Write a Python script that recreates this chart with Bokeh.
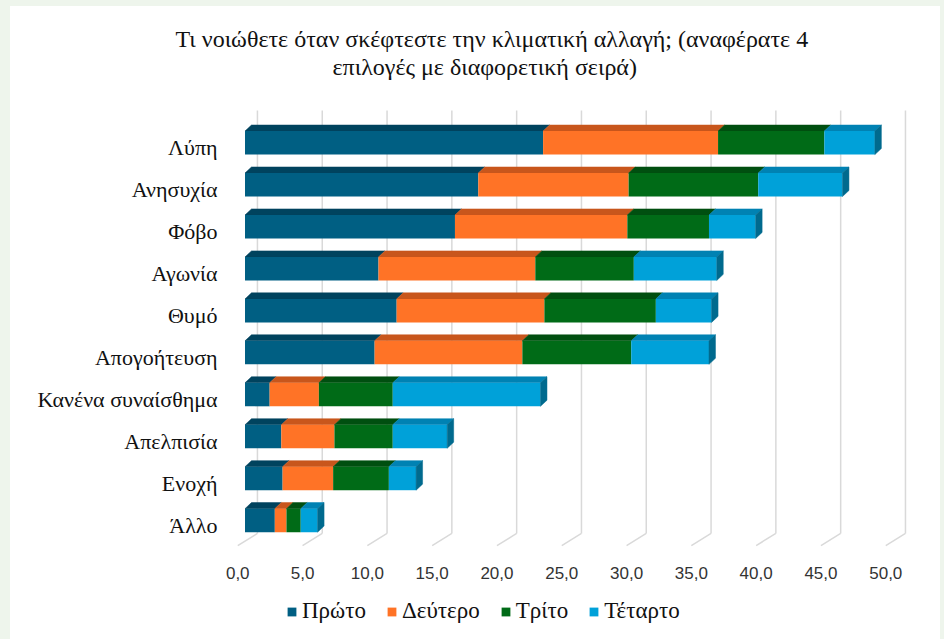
from bokeh.plotting import figure
from bokeh.layouts import column
from bokeh.models import Range1d, FixedTicker, LinearAxis, Legend, LegendItem, Title
from bokeh.embed import file_html
from bokeh.resources import INLINE

# ---------------- data ----------------
categories = ["Λύπη", "Ανησυχία", "Φόβο", "Αγωνία", "Θυμό", "Απογοήτευση",
              "Κανένα συναίσθημα", "Απελπισία", "Ενοχή", "Άλλο"]
series_names = ["Πρώτο", "Δεύτερο", "Τρίτο", "Τέταρτο"]
proto   = [23.0, 18.0, 16.2, 10.3, 11.7, 10.0, 1.9, 2.8, 2.9, 2.3]
deftero = [13.5, 11.6, 13.3, 12.1, 11.4, 11.4, 3.8, 4.1, 3.9, 0.9]
trito   = [8.2, 10.0, 6.3, 7.6, 8.6, 8.4, 5.7, 4.5, 4.3, 1.1]
tetarto = [3.9, 6.5, 3.6, 6.4, 4.3, 6.0, 11.4, 4.2, 2.1, 1.3]
x_ticks = [0, 5, 10, 15, 20, 25, 30, 35, 40, 45, 50]
x_tick_labels = ["0,0", "5,0", "10,0", "15,0", "20,0", "25,0", "30,0",
                 "35,0", "40,0", "45,0", "50,0"]
title_lines = ["Τι νοιώθετε όταν σκέφτεστε την κλιματική αλλαγή; (αναφέρατε 4",
               "επιλογές με διαφορετική σειρά)"]

# ---------------- style ----------------
face_colors = ["#005f83", "#ff7326", "#006b17", "#00a1d9"]
top_colors = ["#00435e", "#c8561c", "#004f10", "#0082b3"]
side_color = "#006a8e"
grid_color = "#d9d9d9"
serif = "Liberation Serif"
sans = "Liberation Sans"
title_offsets = [-57, 100]   # px shifts so both lines centre on the chart box

BAR_H = 0.56      # front face height (rows)
DX = 0.5          # depth offset (x units)
DY = 0.145        # depth offset (rows)
BACK = 0.96       # back wall offset (x units)
FRONT = -0.56     # front floor offset (x units)
GRID_TOP = -0.77
FLOOR_BACK = 9.31
FLOOR_FRONT = 9.6

x_start, x_end = -0.965, 52.12
y_bottom, y_top = 9.86, -1.51
LAB_SHIFT = 0.12

W = 930
p = figure(width=W, height=582, output_backend="svg", toolbar_location=None,
           x_range=Range1d(x_start, x_end), y_range=Range1d(y_bottom, y_top),
           x_axis_location=None, y_axis_location=None,
           min_border_left=222, min_border_right=20, min_border_top=73,
           min_border_bottom=32, background_fill_color="white",
           border_fill_color="white", outline_line_color=None)
p.grid.visible = False

p.extra_x_ranges = {"floor": Range1d(x_start - FRONT, x_end - FRONT)}
p.extra_y_ranges = {"lab": Range1d(y_bottom - LAB_SHIFT, y_top - LAB_SHIFT)}

# titles
for line, off in reversed(list(zip(title_lines, title_offsets))):
    p.add_layout(Title(text=line, align="left", text_font=serif,
                       text_font_size="24px", text_font_style="normal",
                       text_color="#111111", standoff=0, offset=off), "above")

# gridlines (back wall + floor)
gx = [t + BACK for t in x_ticks]
p.segment(x0=gx, y0=[GRID_TOP] * len(gx), x1=gx, y1=[FLOOR_BACK] * len(gx),
          line_color=grid_color, line_width=1.5)
p.segment(x0=gx, y0=[FLOOR_BACK] * len(gx),
          x1=[t + FRONT for t in x_ticks], y1=[FLOOR_FRONT] * len(gx),
          line_color=grid_color, line_width=1.5)

# stacked bars with 3D faces
series = [proto, deftero, trito, tetarto]
ys = list(range(len(categories)))
cum = [0.0] * len(categories)
lefts, rights = [], []
for k, vals in enumerate(series):
    left = cum[:]
    right = [a + b for a, b in zip(cum, vals)]
    cum = right
    lefts.append(left)
    rights.append(right)
    top_xs, top_ys = [], []
    for y, l, r in zip(ys, left, right):
        yt = y - BAR_H / 2
        top_xs.append([l, r, r + DX, l + DX])
        top_ys.append([yt, yt, yt - DY, yt - DY])
    p.patches(top_xs, top_ys, fill_color=top_colors[k], line_color=top_colors[k],
              line_width=0.5)
    p.hbar(y=ys, left=left, right=right, height=BAR_H,
           fill_color=face_colors[k], line_color=None)

side_xs, side_ys = [], []
for y, r in zip(ys, cum):
    yt, yb = y - BAR_H / 2, y + BAR_H / 2
    side_xs.append([r, r + DX, r + DX, r])
    side_ys.append([yt, yt - DY, yb - DY, yb])
p.patches(side_xs, side_ys, fill_color=side_color, line_color=side_color, line_width=0.5)

# axes
xaxis = LinearAxis(x_range_name="floor", ticker=FixedTicker(ticks=x_ticks),
                   major_label_overrides={t: s for t, s in zip(x_ticks, x_tick_labels)})
xaxis.axis_line_color = None
xaxis.major_tick_line_color = None
xaxis.minor_tick_line_color = None
xaxis.major_label_standoff = 4
xaxis.major_label_text_font = sans
xaxis.major_label_text_font_size = "17px"
xaxis.major_label_text_color = "#333333"
p.add_layout(xaxis, "below")

yaxis = LinearAxis(y_range_name="lab", ticker=FixedTicker(ticks=ys),
                   major_label_overrides={i: c for i, c in zip(ys, categories)})
yaxis.axis_line_color = None
yaxis.major_tick_line_color = None
yaxis.minor_tick_line_color = None
yaxis.major_label_standoff = 9
yaxis.major_label_text_font = serif
yaxis.major_label_text_font_size = "22px"
yaxis.major_label_text_color = "#111111"
p.add_layout(yaxis, "left")

# legend figure (legend inside its own frame)
lg = figure(width=W, height=51, output_backend="svg", toolbar_location=None,
            x_range=Range1d(x_start, x_end), y_range=Range1d(y_bottom, y_top),
            x_axis_location=None, y_axis_location=None,
            min_border=0, background_fill_color="white",
            border_fill_color="white", outline_line_color=None)
lg.grid.visible = False
leg_renderers = []
for k in range(len(series)):
    r_ = lg.hbar(y=ys, left=lefts[k], right=rights[k], height=BAR_H,
                 fill_color=face_colors[k], line_color=None, visible=False)
    leg_renderers.append(r_)
legend = Legend(items=[LegendItem(label=n, renderers=[r]) for n, r in zip(series_names, leg_renderers)],
                orientation="horizontal", location=(54, 15),
                label_text_font=serif, label_text_font_size="23px",
                label_text_color="#111111", glyph_width=11, glyph_height=11,
                label_standoff=5, spacing=20, border_line_color=None,
                background_fill_alpha=0, inactive_fill_alpha=0, margin=0, padding=0)
lg.add_layout(legend)

layout = column(p, lg, spacing=0, margin=(6, 4, 0, 10),
                styles={"background-color": "white"})
html = file_html(layout, INLINE)
html = html.replace("</head>",
                    "<style>html, body { background-color: #eef5ec !important; }</style></head>", 1)
open("out.html", "w").write(html)
